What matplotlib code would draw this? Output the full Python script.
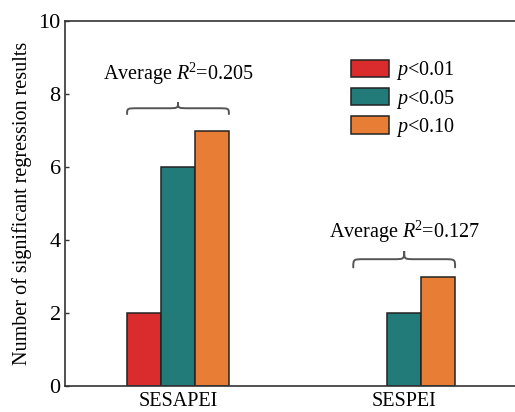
import numpy as np
import matplotlib
matplotlib.use("Agg")
import matplotlib.pyplot as plt
from matplotlib.path import Path
from matplotlib.patches import PathPatch

# ---------------------------------------------------------------------------
# Data
# ---------------------------------------------------------------------------
groups = ["SESAPEI", "SESPEI"]
p01 = [2, 0]
p05 = [6, 2]
p10 = [7, 3]
series_labels = [r"$p$<0.01", r"$p$<0.05", r"$p$<0.10"]
avg_r2 = ["0.205", "0.127"]
yticks = [0, 2, 4, 6, 8, 10]

colors = ["#DA2C2C", "#237B79", "#E87D36"]

plt.rcParams["font.family"] = ["Liberation Serif", "DejaVu Serif"]
plt.rcParams["mathtext.fontset"] = "custom"
plt.rcParams["mathtext.rm"] = "Liberation Serif"
plt.rcParams["mathtext.it"] = "Liberation Serif:italic"


def draw_brace(ax, x0, x1, y0, h, r=0.05, color="#555555", lw=1.4):
    """Horizontal curly brace opening downward, tip pointing up."""
    xm = 0.5 * (x0 + x1)
    y1 = y0 + 0.5 * h
    y2 = y0 + h
    verts = [
        (x0, y0), (x0, y1), (x0, y1), (x0 + r, y1),
        (xm - r, y1),
        (xm, y1), (xm, y1), (xm, y2),
        (xm, y1), (xm, y1), (xm + r, y1),
        (x1 - r, y1),
        (x1, y1), (x1, y1), (x1, y0),
    ]
    codes = [Path.MOVETO, Path.CURVE4, Path.CURVE4, Path.CURVE4,
             Path.LINETO,
             Path.CURVE4, Path.CURVE4, Path.CURVE4,
             Path.CURVE4, Path.CURVE4, Path.CURVE4,
             Path.LINETO,
             Path.CURVE4, Path.CURVE4, Path.CURVE4]
    ax.add_patch(PathPatch(Path(verts, codes), fill=False, ec=color, lw=lw,
                           capstyle="round"))


fig = plt.figure(figsize=(5.15, 4.12), dpi=100)
ax = fig.add_axes([0.126, 0.063, 0.874, 0.886])

x = np.arange(len(groups))
w = 0.15
for i, (vals, c, lab) in enumerate(zip([p01, p05, p10], colors, series_labels)):
    v = np.array(vals, dtype=float)
    v = np.where(v > 0, v, np.nan)
    ax.bar(x + (i - 1) * w, v, width=w, color=c, edgecolor="#222222",
           linewidth=1.1, label=lab)

# braces with average R^2
brace_y = [7.45, 3.25]
text_y = [8.55, 4.22]
brace_h = [0.32, 0.45]
for xi, by, bh, ty, r2 in zip(x, brace_y, brace_h, text_y, avg_r2):
    draw_brace(ax, xi - 1.5 * w, xi + 1.5 * w, by, bh)
    ax.text(xi, ty, r"Average $R^{\!2}$=" + r2, ha="center", va="center",
            fontsize=14.5)

ax.set_xlim(-0.5, 1.49)
ax.set_ylim(0, 10)
ax.set_xticks(x)
ax.set_xticklabels(groups, fontsize=14.5)
ax.set_yticks(yticks)
ax.set_yticklabels([str(t) for t in yticks], fontsize=16)
ax.tick_params(axis="x", length=0, pad=4)
ax.tick_params(axis="y", direction="in", length=3, width=1, color="#333333",
               pad=3)
ax.set_ylabel("Number of significant regression results", fontsize=14.5,
              labelpad=5)

for side in ["left", "bottom", "top"]:
    ax.spines[side].set_color("#333333")
    ax.spines[side].set_linewidth(1.2)
ax.spines["right"].set_visible(False)

ax.legend(loc="upper left", bbox_to_anchor=(0.635, 0.895), frameon=False,
          fontsize=14.5, handlelength=1.9, handleheight=0.95,
          handletextpad=0.35, labelspacing=0.26, borderpad=0,
          borderaxespad=0)

fig.savefig("out.png", dpi=100)
